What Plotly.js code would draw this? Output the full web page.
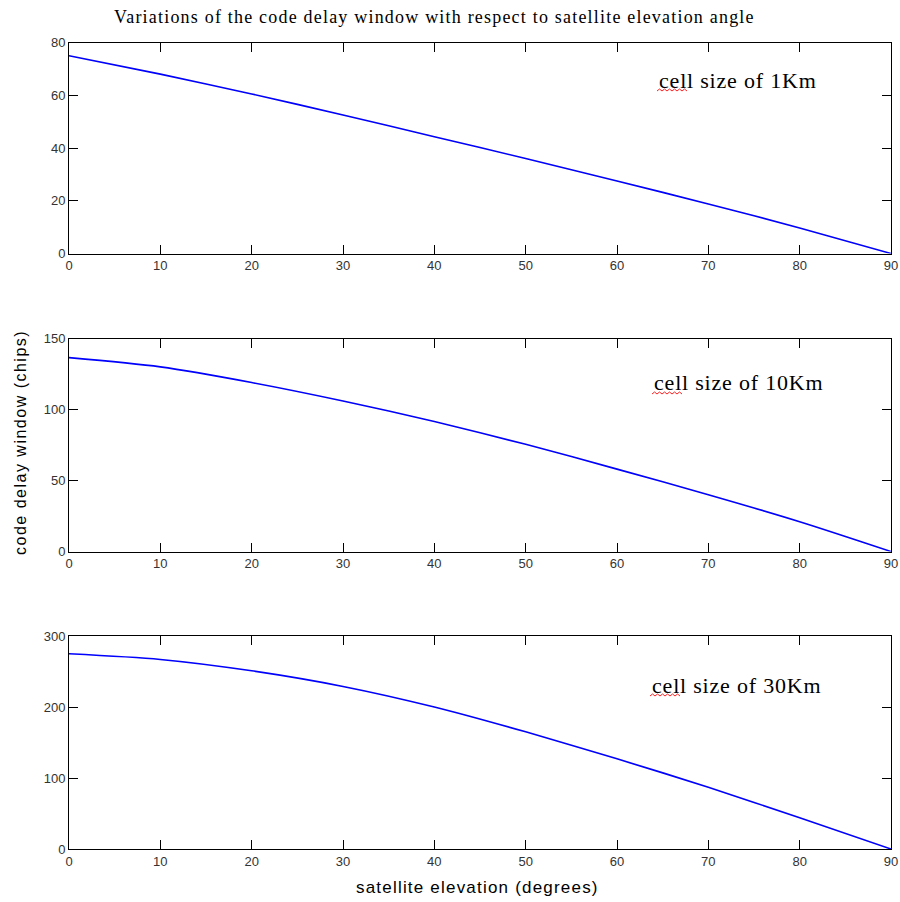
<!DOCTYPE html>
<html>
<head>
<meta charset="utf-8">
<script src="https://cdn.plot.ly/plotly-3.0.1.min.js"></script>
<style>html,body{margin:0;padding:0;background:#fff;}#chart{width:900px;height:902px;}</style>
</head>
<body>
<div id="chart"></div>
<script>
// Data
const elevation = [0, 10, 20, 30, 40, 50, 60, 70, 80, 90];
const delay1Km  = [75, 68, 60.5, 52.5, 44.3, 36, 27.5, 18.8, 9.7, 0];
const delay10Km = [136.5, 130, 119, 106, 91.5, 75.5, 58, 40, 21, 0];
const delay30Km = [275, 267, 251, 229, 200, 165, 127, 87, 44, 0];
const panelLabels = ["cell size of 1Km", "cell size of 10Km", "cell size of 30Km"];
const yTicks1 = [0, 20, 40, 60, 80];
const yTicks2 = [0, 50, 100, 150];
const yTicks3 = [0, 100, 200, 300];
const xTicks = [0, 10, 20, 30, 40, 50, 60, 70, 80, 90];
const titleText = "Variations of the code delay window with respect to satellite elevation angle";
const yTitleText = "code delay window (chips)";
const xTitleText = "satellite elevation (degrees)";

const W = 900, H = 902;
const px = v => v / W;
const py = v => 1 - v / H;

const lineStyle = {color: '#0000ff', width: 1.6, shape: 'spline', smoothing: 0.8};
const traces = [
  {x: elevation, y: delay1Km, xaxis: 'x', yaxis: 'y', mode: 'lines', line: lineStyle, hoverinfo: 'skip'},
  {x: elevation, y: delay10Km, xaxis: 'x2', yaxis: 'y2', mode: 'lines', line: lineStyle, hoverinfo: 'skip'},
  {x: elevation, y: delay30Km, xaxis: 'x3', yaxis: 'y3', mode: 'lines', line: lineStyle, hoverinfo: 'skip'}
];

const tickFont = {family: 'Liberation Sans, Arial, sans-serif', size: 13, color: '#333'};
function xAx(anchor) {
  return {
    domain: [px(69), px(891)], anchor: anchor, range: [0, 90],
    tickvals: xTicks, ticks: 'inside', ticklen: 9, tickwidth: 1, tickcolor: '#000',
    showline: true, linecolor: '#000', linewidth: 1, mirror: 'allticks',
    showgrid: false, zeroline: false, tickfont: tickFont
  };
}
function yAx(anchor, top, bottom, range, tv) {
  return {
    domain: [py(bottom), py(top)], anchor: anchor, range: range,
    tickvals: tv, ticks: 'inside', ticklen: 9, tickwidth: 1, tickcolor: '#000',
    showline: true, linecolor: '#000', linewidth: 1, mirror: 'allticks',
    showgrid: false, zeroline: false, tickfont: tickFont
  };
}

const serif = 'Liberation Serif, Times New Roman, serif';
const sans = 'Liberation Sans, Arial, sans-serif';
const spaced = (t, s) => '<span style="letter-spacing:' + s + 'px">' + t + '</span>';

// red spell-check squiggle under the word "cell"
function squiggle(x0, x1, y) {
  let d = 'M' + px(x0) + ',' + py(y);
  let up = true;
  for (let x = x0 + 2.5; x <= x1 + 0.01; x += 2.5) {
    d += ' L' + px(x) + ',' + py(up ? y - 2 : y);
    up = !up;
  }
  return {type: 'path', xref: 'paper', yref: 'paper', path: d, line: {color: '#ff2020', width: 1}};
}

const labelPos = [[657, 80], [652, 383], [650, 685]];
const layout = {
  width: W, height: H,
  margin: {l: 0, r: 0, t: 0, b: 0},
  paper_bgcolor: '#fff', plot_bgcolor: '#fff',
  showlegend: false,
  xaxis: xAx('y'), xaxis2: xAx('y2'), xaxis3: xAx('y3'),
  yaxis: yAx('x', 42.5, 253.5, [0, 80], yTicks1),
  yaxis2: yAx('x2', 338.5, 551.5, [0, 150], yTicks2),
  yaxis3: yAx('x3', 636, 849, [0, 300], yTicks3),
  shapes: labelPos.map(p => squiggle(p[0], p[0] + 32, p[1] + 11)),
  annotations: [
    {text: spaced(titleText, 1.2), xref: 'paper', yref: 'paper', x: px(434), y: py(17), xanchor: 'center', yanchor: 'middle', showarrow: false, font: {family: serif, size: 18, color: '#000'}},
    {text: spaced(yTitleText, 1.5), xref: 'paper', yref: 'paper', x: px(20), y: py(443), xanchor: 'center', yanchor: 'middle', textangle: -90, showarrow: false, font: {family: sans, size: 16, color: '#000'}},
    {text: spaced(xTitleText, 1.2), xref: 'paper', yref: 'paper', x: px(477), y: py(887), xanchor: 'center', yanchor: 'middle', showarrow: false, font: {family: sans, size: 17, color: '#000'}}
  ].concat(panelLabels.map((t, i) => ({
    text: spaced(t, 0.8), xref: 'paper', yref: 'paper', x: px(labelPos[i][0]), y: py(labelPos[i][1]),
    xanchor: 'left', yanchor: 'middle', showarrow: false, font: {family: serif, size: 22, color: '#000'}
  })))
};

Plotly.newPlot('chart', traces, layout, {displayModeBar: false, staticPlot: true});
</script>
</body>
</html>
